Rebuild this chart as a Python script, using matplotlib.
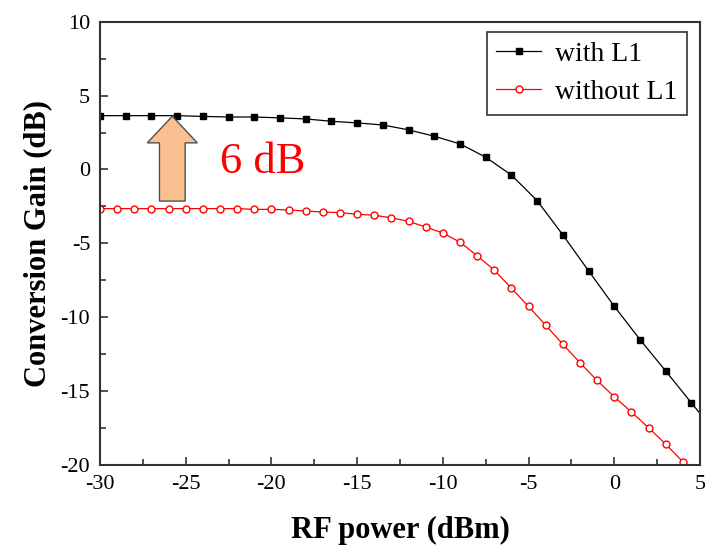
import matplotlib
matplotlib.use("Agg")
import matplotlib.pyplot as plt
from matplotlib.ticker import MultipleLocator

plt.rcParams['font.family'] = ['Liberation Serif', 'DejaVu Serif']
plt.rcParams['axes.unicode_minus'] = False

# with L1 (1.5 dBm steps, last point lies past the axis edge)
x_with = [-30, -28.5, -27, -25.5, -24, -22.5, -21, -19.5, -18, -16.5, -15, -13.5,
          -12, -10.5, -9, -7.5, -6, -4.5, -3, -1.5, 0, 1.5, 3, 4.5, 6]
y_with = [3.64, 3.64, 3.64, 3.64, 3.59, 3.55, 3.55, 3.49, 3.42, 3.26, 3.15, 3.01,
          2.68, 2.25, 1.73, 0.83, -0.38, -2.11, -4.43, -6.86, -9.26, -11.51, -13.64,
          -15.80, -17.95]

# without L1 (1 dBm steps)
x_without = [-30, -29, -28, -27, -26, -25, -24, -23, -22, -21, -20, -19, -18, -17,
             -16, -15, -14, -13, -12, -11, -10, -9, -8, -7, -6, -5, -4, -3, -2, -1,
             0, 1, 2, 3, 4, 5]
y_without = [-2.65, -2.65, -2.65, -2.65, -2.65, -2.65, -2.65, -2.65, -2.65, -2.70,
             -2.70, -2.74, -2.81, -2.88, -2.92, -3.03, -3.10, -3.27, -3.51, -3.90,
             -4.30, -4.92, -5.84, -6.81, -8.04, -9.27, -10.54, -11.83, -13.08,
             -14.28, -15.39, -16.41, -17.48, -18.59, -19.78, -20.9]

fig = plt.figure(figsize=(7.05, 5.49), dpi=100)
ax = fig.add_axes([0.1418, 0.153, 0.8511, 0.8075])

ax.plot(x_with, y_with, color='black', lw=0.9, marker='s', markersize=4.5,
        label='with L1')
ax.plot(x_without, y_without, color='red', lw=0.9, marker='o', markersize=5,
        markerfacecolor='white', markeredgecolor='red', markeredgewidth=1.0,
        label='without L1')

# 6 dB arrow
ax.arrow(-25.78, -2.14, 0, 5.74, width=1.5, head_width=2.92, head_length=1.8,
         length_includes_head=True, fc='#FAC090', ec='#505050', lw=1.0, zorder=3)
ax.text(-23, 0.5, '6 dB', color='red', fontsize=32, va='center', ha='left')

ax.set_xlim(-30, 5)
ax.set_ylim(-20, 10)
ax.xaxis.set_major_locator(MultipleLocator(5))
ax.xaxis.set_minor_locator(MultipleLocator(2.5))
ax.yaxis.set_major_locator(MultipleLocator(5))
ax.yaxis.set_minor_locator(MultipleLocator(2.5))
ax.tick_params(which='both', direction='in', top=False, right=False,
               labelsize=16, width=1.2, color='#333333', pad=7)
ax.tick_params(which='major', length=6)
ax.tick_params(which='minor', length=4)
for s in ax.spines.values():
    s.set_linewidth(1.5)
    s.set_color('#333333')

ax.set_xlabel('RF power (dBm)', fontsize=22, fontweight='bold', labelpad=16)
ax.set_ylabel('Conversion Gain (dB)', fontsize=22, fontweight='bold', labelpad=6)

leg = ax.legend(loc='upper right', bbox_to_anchor=(0.978, 0.977), borderaxespad=0,
                fontsize=20, handlelength=1.6, handletextpad=0.5, labelspacing=0.45,
                fancybox=False, framealpha=1, edgecolor='#333333',
                borderpad=0.35)
leg.get_frame().set_linewidth(1.2)

fig.savefig('out.png', dpi=100)
